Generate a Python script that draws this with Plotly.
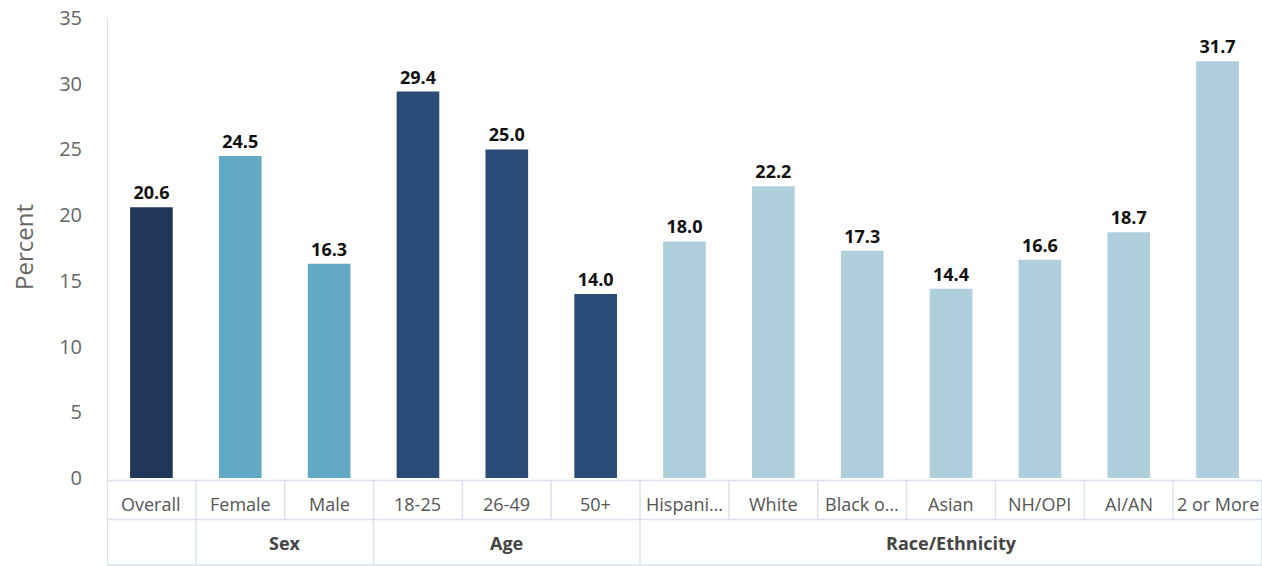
import plotly.graph_objects as go

categories = ["Overall", "Female", "Male", "18-25", "26-49", "50+",
              "Hispani…", "White", "Black o…", "Asian", "NH/OPI", "AI/AN", "2 or More"]
values = [20.6, 24.5, 16.3, 29.4, 25.0, 14.0, 18.0, 22.2, 17.3, 14.4, 16.6, 18.7, 31.7]
groups = ["", "Sex", "Sex", "Age", "Age", "Age",
          "Race/Ethnicity", "Race/Ethnicity", "Race/Ethnicity", "Race/Ethnicity",
          "Race/Ethnicity", "Race/Ethnicity", "Race/Ethnicity"]
group_colors = {"": "#203759", "Sex": "#61a9c4", "Age": "#2a4a78", "Race/Ethnicity": "#b0cfdc"}
y_ticks = [0, 5, 10, 15, 20, 25, 30, 35]

W, H = 1262, 566
L, R, T, B = 107, 0, 18, 88
plot_h = H - T - B
line_col = "#dbe1ef"
FONT = "Open Sans"

xs = list(range(len(categories)))
fig = go.Figure(go.Bar(
    x=xs, y=values,
    marker=dict(color=[group_colors[g] for g in groups], line=dict(width=0)),
    width=0.48,
    text=[f"{v:.1f}" for v in values], textposition="outside",
    textfont=dict(family=FONT, size=18, color="#111111", weight="bold"),
    cliponaxis=False,
))

def py(pix):
    return (H - B - pix) / plot_h

shapes = []
row1_top, row1_bot, row2_bot = py(480.5), py(519.5), py(565)
for yy in (row1_top, row1_bot, row2_bot):
    shapes.append(dict(type="line", xref="x", yref="paper", x0=-0.5, x1=12.5, y0=yy, y1=yy,
                       line=dict(color=line_col, width=1.5)))
for k in range(len(categories) + 1):
    shapes.append(dict(type="line", xref="x", yref="paper", x0=k - 0.5, x1=k - 0.5,
                       y0=row1_top, y1=row1_bot, line=dict(color=line_col, width=1.5)))
bounds = [0]
for i in range(1, len(groups)):
    if groups[i] != groups[i - 1]:
        bounds.append(i)
bounds.append(len(groups))
for b in bounds:
    shapes.append(dict(type="line", xref="x", yref="paper", x0=b - 0.5, x1=b - 0.5,
                       y0=row1_bot, y1=row2_bot, line=dict(color=line_col, width=1.5)))
shapes.append(dict(type="line", xref="x", yref="paper", x0=-0.5, x1=-0.5, y0=1, y1=row2_bot,
                   line=dict(color=line_col, width=2)))

annotations = []
for i, c in enumerate(categories):
    annotations.append(dict(x=i, y=py(504), xref="x", yref="paper", text=c,
                            xanchor="center", yanchor="middle", showarrow=False,
                            font=dict(family=FONT, size=18, color="#555555")))
for j in range(len(bounds) - 1):
    g = groups[bounds[j]]
    if g:
        annotations.append(dict(x=(bounds[j] + bounds[j + 1] - 1) / 2, y=py(543),
                                xref="x", yref="paper", text=f"<b>{g}</b>", showarrow=False,
                                xanchor="center", yanchor="middle",
                                font=dict(family=FONT, size=18, color="#444444")))
annotations.append(dict(x=-(L - 23) / (W - L - R), y=py(247), xref="paper", yref="paper",
                        text="Percent", textangle=-90, showarrow=False,
                        xanchor="center", yanchor="middle",
                        font=dict(family=FONT, size=24, color="#666666")))

fig.update_layout(
    width=W, height=H, margin=dict(l=L, r=R, t=T, b=B),
    plot_bgcolor="white", paper_bgcolor="white", showlegend=False,
    xaxis=dict(range=[-0.5, 12.5], showticklabels=False, showgrid=False, zeroline=False,
               showline=False, fixedrange=True),
    yaxis=dict(range=[0, 35], tickvals=y_ticks, showgrid=False, zeroline=False, showline=False,
               ticks="", ticklabelstandoff=24,
               tickfont=dict(family=FONT, size=20, color="#666666")),
    shapes=shapes, annotations=annotations,
)
fig.write_html("out.html")
